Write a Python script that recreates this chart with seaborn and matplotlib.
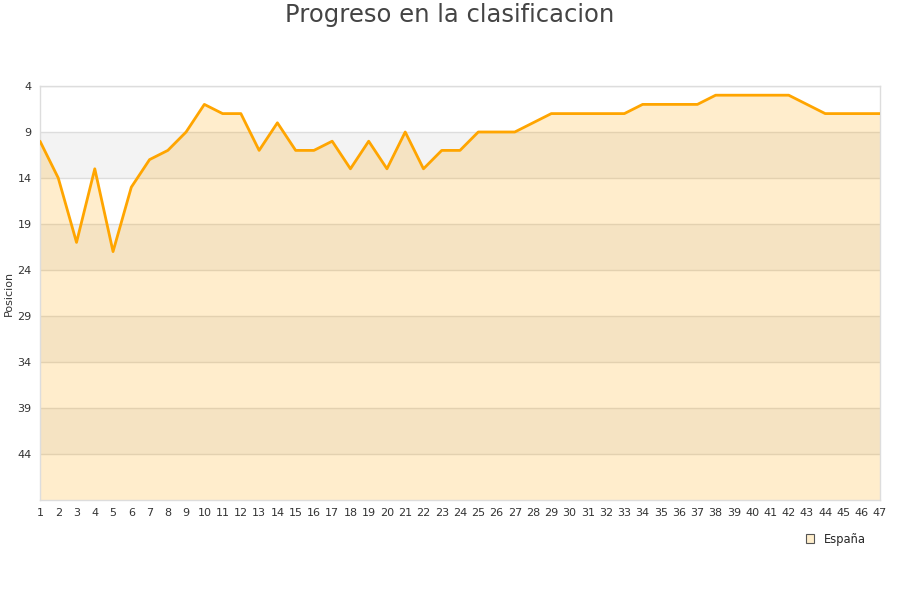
import matplotlib
matplotlib.use("Agg")
import matplotlib.pyplot as plt
import seaborn as sns
import pandas as pd
from matplotlib.patches import Patch

jornadas = list(range(1, 48))
posiciones = [10, 14, 21, 13, 22, 15, 12, 11, 9, 6,
              7, 7, 11, 8, 11, 11, 10, 13, 10, 13,
              9, 13, 11, 11, 9, 9, 9, 8, 7, 7,
              7, 7, 7, 6, 6, 6, 6, 5, 5, 5,
              5, 5, 6, 7, 7, 7, 7]
y_ticks = [4, 9, 14, 19, 24, 29, 34, 39, 44]
serie = "España"

df = pd.DataFrame({"Jornada": jornadas, "Posicion": posiciones})

sns.set_theme(style="white")
plt.rcParams['font.family'] = ['DejaVu Sans']

fig = plt.figure(figsize=(9, 6), dpi=100)
ax = fig.add_axes([40/900, 100/600, 840/900, 414/600])

ymin, ymax = 4, 49
# alternating bands
for i, t in enumerate(y_ticks):
    if i % 2 == 1:
        ax.axhspan(t, t + 5, color="#f3f3f3", zorder=0, lw=0)
for t in y_ticks:
    ax.axhline(t, color="#dddddd", lw=1, zorder=1)

ax.fill_between(df["Jornada"], df["Posicion"], ymax, color="#ffa500", alpha=0.2, lw=0, zorder=2)
sns.lineplot(data=df, x="Jornada", y="Posicion", ax=ax, color="#ffa500", lw=2, zorder=3)

ax.set_xlim(1, 47)
ax.set_ylim(ymax, ymin)
ax.set_yticks(y_ticks)
ax.set_xticks(jornadas)
ax.tick_params(axis="both", labelsize=8, colors="#333333", length=0, pad=6)
ax.set_xlabel("")
ax.set_ylabel("Posicion", fontsize=8, color="#333333")
ax.yaxis.set_label_coords(-26/840, 0.5)
for s in ax.spines.values():
    s.set_color("#dddddd")
    s.set_linewidth(1)

fig.text(0.5, 1 - 15/600, "Progreso en la clasificacion", ha="center", va="center",
         fontsize=17.5, color="#444444")

handles = [Patch(facecolor="#ffeecc", edgecolor="#555555", linewidth=0.8, label=serie)]
fig.legend(handles=handles, loc="center", bbox_to_anchor=(836/900, 1 - 539/600),
           frameon=False, fontsize=8.3, handlelength=0.7, handleheight=0.7, handletextpad=0.8)

fig.savefig("out.png", dpi=100)
